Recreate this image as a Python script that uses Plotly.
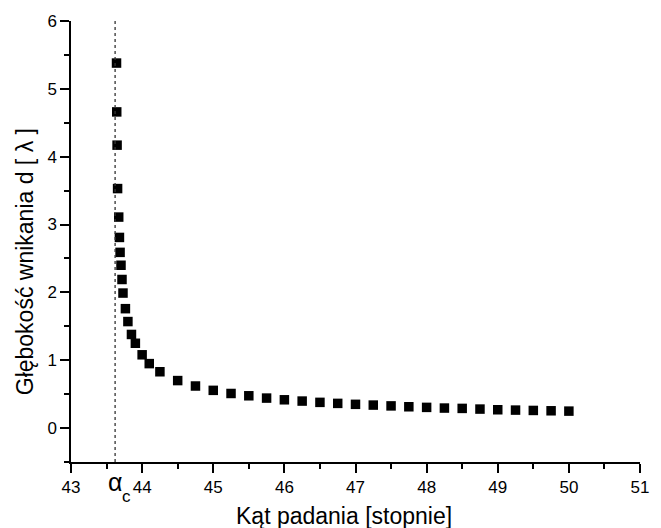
import plotly.graph_objects as go

# data
angle = [43.64, 43.643, 43.648, 43.655, 43.671, 43.681, 43.69, 43.703, 43.717, 43.731,
         43.765, 43.80, 43.85, 43.905, 44.0, 44.1, 44.25, 44.5,
         44.75, 45.0, 45.25, 45.5, 45.75, 46.0, 46.25, 46.5, 46.75, 47.0, 47.25,
         47.5, 47.75, 48.0, 48.25, 48.5, 48.75, 49.0, 49.25, 49.5, 49.75, 50.0]
depth = [5.38, 4.66, 4.17, 3.53, 3.11, 2.81, 2.59, 2.40, 2.19, 1.99,
         1.76, 1.57, 1.38, 1.25, 1.08, 0.95, 0.83, 0.70,
         0.62, 0.556, 0.51, 0.476, 0.442, 0.417, 0.398, 0.379, 0.364, 0.35, 0.339,
         0.327, 0.314, 0.305, 0.295, 0.29, 0.28, 0.27, 0.265, 0.26, 0.255, 0.25]
alpha_c = 43.62
x_ticks = [43, 44, 45, 46, 47, 48, 49, 50, 51]
x_ticklabels = ["43", "44", "45", "46", "47", "48", "49", "50", "51"]
y_ticks = [0, 1, 2, 3, 4, 5, 6]

FONT = "Liberation Sans, Arial, sans-serif"

fig = go.Figure()
fig.add_trace(go.Scatter(
    x=angle, y=depth, mode="markers",
    marker=dict(symbol="square", size=9.5, color="black", line=dict(width=0)),
    showlegend=False, hoverinfo="x+y"))

fig.add_shape(type="line", xref="x", yref="paper", x0=alpha_c, x1=alpha_c, y0=0, y1=1,
              line=dict(color="#333333", width=1.3, dash="dot"))

fig.update_layout(
    width=661, height=528,
    margin=dict(l=71, r=18, t=19, b=66),
    paper_bgcolor="white", plot_bgcolor="white",
    font=dict(family=FONT, color="black", size=17),
    xaxis=dict(range=[43, 51], tickvals=x_ticks, ticktext=x_ticklabels,
               ticks="outside", ticklen=9, tickwidth=1.5, tickcolor="black",
               showline=True, linewidth=1.5, linecolor="black",
               showgrid=False, zeroline=False,
               minor=dict(dtick=0.5, tick0=43, ticks="outside", ticklen=5, tickwidth=1.5,
                          tickcolor="black", showgrid=False),
               tickfont=dict(size=17, family=FONT)),
    yaxis=dict(range=[-0.5, 6], tickvals=y_ticks,
               ticks="outside", ticklen=9, tickwidth=1.5, tickcolor="black",
               showline=True, linewidth=1.5, linecolor="black",
               showgrid=False, zeroline=False,
               minor=dict(dtick=0.5, tick0=0, ticks="outside", ticklen=5, tickwidth=1.5,
                          tickcolor="black", showgrid=False),
               tickfont=dict(size=17, family=FONT)),
    annotations=[
        dict(text="Kąt padania [stopnie]", xref="paper", yref="paper",
             x=0.479, y=-0.122, showarrow=False, font=dict(size=23, family=FONT),
             xanchor="center", yanchor="middle"),
        dict(text="Głębokość wnikania d [ λ ]", xref="paper", yref="paper",
             x=-0.081, y=0.455, showarrow=False, textangle=-90,
             font=dict(size=23, family=FONT), xanchor="center", yanchor="middle"),
        dict(text="α", xref="x", yref="paper", x=alpha_c, y=-0.045,
             showarrow=False, font=dict(size=25, family=FONT),
             xanchor="center", yanchor="middle", borderpad=0),
        dict(text="c", xref="x", yref="paper", x=alpha_c + 0.088, y=-0.078,
             showarrow=False, font=dict(size=17, family=FONT),
             xanchor="left", yanchor="middle", borderpad=0),
    ],
)

fig.write_html("out.html")
